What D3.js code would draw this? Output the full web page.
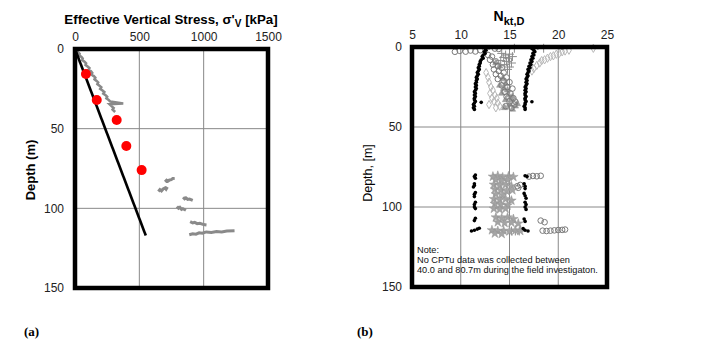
<!DOCTYPE html>
<html>
<head>
<meta charset="utf-8">
<script src="https://cdnjs.cloudflare.com/ajax/libs/d3/7.8.5/d3.min.js"></script>
<style>
body { margin: 0; background: #fff; }
text { font-family: "Liberation Sans", Arial, sans-serif; }
</style>
</head>
<body>
<svg id="chart" width="707" height="348"></svg>
<script>
// ---- panel (a) data ----
var stressTicks = [0, 500, 1000, 1500];
var depthTicks = [0, 50, 100, 150];

var redStress = [85, 169, 324, 399, 518];
var redDepth = [15.7, 32, 44.6, 60.9, 76];

var trendStress = [0, 550];
var trendDepth = [0, 117];

// measured profile, top 40 m
var profStress = [0, 14, 24, 36, 33, 50, 60, 57, 74, 86, 82, 98, 112, 106, 124, 134, 128, 146, 158, 152, 168, 180, 174, 190, 204, 196, 214, 228, 220, 238, 250, 244, 262, 275, 375, 268, 286, 300, 292, 312];
var profDepth = [0, 1, 2, 3, 4, 5, 6, 7, 8, 9, 10, 11, 12, 13, 14, 15, 16, 17, 18, 19, 20, 21, 22, 23, 24, 25, 26, 27, 28, 29, 30, 31, 32, 33, 34.2, 34.6, 36, 37, 38, 39.5];

// deeper measured segments
var seg81 = [[700, 83.4], [712, 82.4], [722, 83.0], [735, 82.2], [748, 82.0], [760, 81.3], [775, 81.2]];
var seg87 = [[648, 89.4], [660, 88.2], [672, 89.0], [685, 87.8], [700, 87.2], [708, 88.0], [718, 86.6]];
var seg94 = [[840, 93.0], [852, 94.0], [862, 93.4], [876, 94.4], [890, 94.2], [915, 95.0]];
var seg100 = [[792, 98.8], [805, 100.0], [815, 99.4], [828, 100.6], [838, 100.2], [862, 101.2]];
var seg109 = [[895, 108.4], [915, 109.2], [930, 108.8], [950, 109.6], [970, 109.4], [1000, 110.2], [1022, 110.4]];
var seg115 = [[888, 116.6], [915, 116.0], [940, 116.2], [965, 115.4], [990, 115.6], [1020, 114.8], [1060, 115.2], [1100, 114.6], [1140, 114.8], [1180, 114.2], [1240, 114.0]];

// ---- panel (b) data ----
var nktTicks = [5, 10, 15, 20, 25];

var nktBlackL = [[12.5, 1], [12.6, 2], [12.4, 3], [12.5, 4], [12.3, 5], [12.2, 6], [12.3, 7], [12.1, 8], [12.0, 9], [12.0, 10], [11.9, 11], [11.9, 12], [11.8, 13], [11.9, 14], [11.8, 15], [11.7, 16], [11.8, 17], [11.7, 18], [11.6, 19], [11.7, 20], [11.6, 21], [11.6, 22], [11.5, 23], [11.6, 24], [11.5, 25], [11.6, 26], [11.5, 27], [11.4, 28], [11.5, 29], [11.4, 30], [11.5, 31], [11.4, 32], [11.4, 33], [11.5, 34], [12.1, 34.6], [11.4, 35], [11.3, 36], [11.4, 37], [11.3, 38], [11.4, 39],
  [11.5, 80], [11.4, 81], [11.5, 82], [11.4, 85.5], [11.4, 86.5], [11.3, 87.5], [11.5, 91], [11.4, 92], [11.4, 93.5], [11.5, 97], [11.4, 98.5], [11.4, 100], [11.5, 101], [11.5, 107], [11.4, 108.5], [11.1, 115], [11.4, 114.5], [11.7, 113.8], [11.9, 113.3]];

var nktBlackR = [[17.3, 1], [17.5, 2], [17.6, 3], [17.4, 4], [17.5, 5], [17.3, 6], [17.4, 7], [17.2, 8], [17.3, 9], [17.1, 10], [17.2, 11], [17.0, 12], [17.1, 13], [16.9, 14], [17.0, 15], [16.9, 16], [16.8, 17], [16.9, 18], [16.8, 19], [16.7, 20], [16.8, 21], [16.7, 22], [16.8, 23], [16.7, 24], [16.6, 25], [16.7, 26], [16.6, 27], [16.7, 28], [16.6, 29], [16.6, 30], [16.7, 31], [16.6, 32], [16.6, 33], [16.7, 34], [17.3, 34.2], [16.6, 35], [16.6, 36], [16.5, 37], [16.6, 38], [16.6, 39],
  [16.6, 80.5], [16.8, 81], [16.5, 85.5], [16.6, 87], [16.6, 88.5], [16.5, 91.5], [16.6, 93], [16.7, 94.5], [16.6, 97], [16.7, 98.5], [16.6, 100], [16.7, 101.5], [16.5, 107.5], [16.6, 109], [16.4, 113.5], [16.6, 114.5], [16.9, 115]];

var nktBlackTop = [[12.9, 0.4], [15.1, 0.3], [17.9, 0.5], [20.4, 0.4]];

var nktCircles = [[9.4, 3], [9.9, 2.4], [10.5, 2.9], [11.0, 2.2], [11.5, 2.8], [12.0, 2.0], [13.5, 1.0], [13.9, 1.2],
  [12.8, 5], [13.2, 6], [13.0, 8], [13.6, 9], [13.3, 11], [13.8, 12], [14.2, 13], [13.4, 14], [13.9, 15], [14.4, 16], [13.6, 17], [14.1, 18], [14.7, 19], [13.8, 20], [14.4, 21], [15.0, 22], [14.2, 24], [14.8, 25], [15.3, 26], [14.5, 28], [15.1, 29], [14.7, 31], [15.4, 32], [15.0, 34], [15.5, 36], [15.2, 38], [14.6, 37], [15.6, 34.2],
  [17.0, 81], [17.4, 80.6], [17.8, 80.8], [18.2, 80.5], [15.8, 87], [16.1, 86.2], [15.9, 88], [18.2, 108.5], [18.6, 109.5],
  [18.4, 114.8], [18.8, 115.0], [19.2, 114.8], [19.6, 114.6], [20.0, 114.4], [20.4, 114.3], [20.7, 114.1]];

var nktLight = [[17.3, 15], [17.5, 13.5], [17.8, 11.5], [18.1, 10], [18.3, 8.5], [18.6, 8], [18.9, 7], [19.2, 6], [19.5, 5.5], [19.8, 4.5], [20.1, 4], [20.4, 3], [20.7, 2.5], [21.1, 2.0], [23.6, 0.8],
  [12.6, 16], [12.8, 19], [12.9, 22], [13.1, 25], [13.3, 27], [13.0, 29], [13.5, 30], [13.7, 32], [13.4, 34], [13.8, 35], [14.0, 37], [13.6, 38], [12.9, 36], [13.2, 32]];

var nktDark = [[14.0, 24], [14.4, 26], [14.8, 27], [14.2, 29], [14.9, 30], [15.3, 31], [14.6, 33], [15.2, 33], [15.8, 35.5], [15.0, 36], [15.6, 37], [14.5, 38], [15.3, 39], [13.6, 10], [14.0, 12], [14.3, 20], [14.6, 23]];

var nktCross = [[14.2, 4], [14.6, 5], [15.0, 4.5], [14.4, 6.5], [14.9, 7], [15.3, 6], [14.1, 8.5], [14.7, 9], [15.2, 10], [14.5, 11], [15.0, 12.5], [14.8, 14], [15.5, 0.8], [18.5, 0.8],
  [15.2, 115], [15.6, 115], [16.0, 115]];

var nktStars = [[13.3, 81], [13.8, 80.5], [14.3, 81.5], [14.9, 80.8], [15.4, 81.2], [13.6, 83], [14.2, 83.5], [14.8, 83],
  [13.4, 86], [14.0, 86.5], [14.6, 86], [15.2, 87], [13.5, 89], [14.1, 89.5], [14.7, 90], [15.3, 89.5], [13.6, 92], [14.3, 92.5],
  [13.4, 95], [14.0, 95.5], [14.6, 95], [15.2, 96], [13.5, 98], [14.1, 98.5], [14.8, 99], [13.4, 101], [14.0, 101.5], [14.6, 101],
  [13.6, 106.5], [14.2, 107], [14.8, 106.5], [15.4, 107.5], [13.8, 109.5], [14.5, 110], [15.2, 109.8], [15.9, 110.3],
  [13.2, 114.5], [13.8, 115], [14.4, 114.8], [15.0, 115.2], [15.6, 114.6], [16.1, 114.9], [13.5, 116.5], [14.2, 116.8]];

var svg = d3.select("#chart");

// ================= panel (a) =================
var xA = d3.scaleLinear().domain([0, 1500]).range([75, 268]);
var yA = d3.scaleLinear().domain([0, 150]).range([49, 288]);

var gA = svg.append("g");

gA.selectAll(".vgrid").data(stressTicks.slice(1, -1)).enter().append("line")
  .attr("x1", function(d) { return xA(d); }).attr("x2", function(d) { return xA(d); })
  .attr("y1", yA(0)).attr("y2", yA(150))
  .attr("stroke", "#888").attr("stroke-width", 1);
gA.selectAll(".hgrid").data(depthTicks.slice(1, -1)).enter().append("line")
  .attr("x1", xA(0)).attr("x2", xA(1500))
  .attr("y1", function(d) { return yA(d); }).attr("y2", function(d) { return yA(d); })
  .attr("stroke", "#888").attr("stroke-width", 1);

var lineA = d3.line()
  .x(function(d) { return xA(d[0]); })
  .y(function(d) { return yA(d[1]); });

var prof = profStress.map(function(s, i) { return [s, profDepth[i]]; });
gA.append("path").datum(prof)
  .attr("d", lineA).attr("fill", "none")
  .attr("stroke", "#8a8a8a").attr("stroke-width", 2.6);

[seg81, seg87, seg94, seg100, seg109, seg115].forEach(function(seg) {
  gA.append("path").datum(seg)
    .attr("d", lineA).attr("fill", "none")
    .attr("stroke", "#8a8a8a").attr("stroke-width", 3);
});

gA.append("path").datum(trendStress.map(function(s, i) { return [s, trendDepth[i]]; }))
  .attr("d", lineA).attr("fill", "none")
  .attr("stroke", "#000").attr("stroke-width", 2.6);

gA.selectAll(".red").data(redStress).enter().append("circle")
  .attr("cx", function(d) { return xA(d); })
  .attr("cy", function(d, i) { return yA(redDepth[i]); })
  .attr("r", 5).attr("fill", "#ff0000");

gA.append("rect")
  .attr("x", xA(0)).attr("y", yA(0))
  .attr("width", xA(1500) - xA(0)).attr("height", yA(150) - yA(0))
  .attr("fill", "none").attr("stroke", "#000").attr("stroke-width", 4.5);

var axA = gA.append("g").attr("transform", "translate(0," + yA(0) + ")")
  .call(d3.axisTop(xA).tickValues(stressTicks).tickFormat(d3.format("d")).tickSize(0).tickPadding(8));
var ayA = gA.append("g").attr("transform", "translate(" + xA(0) + ",0)")
  .call(d3.axisLeft(yA).tickValues(depthTicks).tickSize(0).tickPadding(11));
[axA, ayA].forEach(function(a) {
  a.select(".domain").remove();
  a.selectAll("text").attr("font-size", 12).attr("fill", "#222")
    .attr("font-family", "Liberation Sans, Arial, sans-serif");
});

var tA = gA.append("text").attr("x", 171).attr("y", 24)
  .attr("text-anchor", "middle").attr("font-size", 13.3).attr("font-weight", "bold");
tA.append("tspan").text("Effective Vertical Stress, \u03c3'");
tA.append("tspan").attr("font-size", 10).attr("dy", 3).text("V");
tA.append("tspan").attr("dy", -3).text(" [kPa]");

gA.append("text").attr("transform", "translate(35,170) rotate(-90)")
  .attr("text-anchor", "middle").attr("font-size", 13).attr("font-weight", "bold")
  .text("Depth (m)");

gA.append("text").attr("x", 24).attr("y", 336)
  .attr("font-size", 13).attr("font-weight", "bold")
  .style("font-family", "Liberation Serif, 'Times New Roman', serif")
  .text("(a)");

// ================= panel (b) =================
var xB = d3.scaleLinear().domain([5, 25]).range([412, 607]);
var yB = d3.scaleLinear().domain([0, 150]).range([47, 287]);

var gB = svg.append("g");

gB.selectAll(".vgrid").data(nktTicks.slice(1, -1)).enter().append("line")
  .attr("x1", function(d) { return xB(d); }).attr("x2", function(d) { return xB(d); })
  .attr("y1", yB(0)).attr("y2", yB(150))
  .attr("stroke", "#888").attr("stroke-width", 1);
gB.selectAll(".hgrid").data(depthTicks.slice(1, -1)).enter().append("line")
  .attr("x1", xB(5)).attr("x2", xB(25))
  .attr("y1", function(d) { return yB(d); }).attr("y2", function(d) { return yB(d); })
  .attr("stroke", "#888").attr("stroke-width", 1);

function pos(d) { return "translate(" + xB(d[0]) + "," + yB(d[1]) + ")"; }

gB.selectAll(".light").data(nktLight).enter().append("path")
  .attr("transform", pos)
  .attr("d", d3.symbol().type(d3.symbolDiamond).size(20))
  .attr("fill", "none").attr("stroke", "#b8b8b8").attr("stroke-width", 1);

gB.selectAll(".dark").data(nktDark).enter().append("path")
  .attr("transform", pos)
  .attr("d", d3.symbol().type(d3.symbolTriangle).size(18))
  .attr("fill", "#a0a0a0").attr("stroke", "#909090").attr("stroke-width", 0.5);

gB.selectAll(".circ").data(nktCircles).enter().append("circle")
  .attr("cx", function(d) { return xB(d[0]); })
  .attr("cy", function(d) { return yB(d[1]); })
  .attr("r", 2.8).attr("fill", "none").attr("stroke", "#7a7a7a").attr("stroke-width", 1);

gB.selectAll(".cross").data(nktCross).enter().append("path")
  .attr("transform", pos)
  .attr("d", d3.symbol().type(d3.symbolPlus).size(28))
  .attr("fill", "none").attr("stroke", "#8c8c8c").attr("stroke-width", 1);

gB.selectAll(".star").data(nktStars).enter().append("path")
  .attr("transform", pos)
  .attr("d", d3.symbol().type(d3.symbolStar).size(28))
  .attr("fill", "#a4a4a4").attr("stroke", "#959595").attr("stroke-width", 0.5);

gB.selectAll(".blk").data(nktBlackL.concat(nktBlackR, nktBlackTop)).enter().append("circle")
  .attr("cx", function(d) { return xB(d[0]); })
  .attr("cy", function(d) { return yB(d[1]); })
  .attr("r", 1.8).attr("fill", "#000");

gB.append("rect")
  .attr("x", xB(5)).attr("y", yB(0))
  .attr("width", xB(25) - xB(5)).attr("height", yB(150) - yB(0))
  .attr("fill", "none").attr("stroke", "#000").attr("stroke-width", 4.5);

var axB = gB.append("g").attr("transform", "translate(0," + yB(0) + ")")
  .call(d3.axisTop(xB).tickValues(nktTicks).tickSize(0).tickPadding(8));
var ayB = gB.append("g").attr("transform", "translate(" + xB(5) + ",0)")
  .call(d3.axisLeft(yB).tickValues(depthTicks).tickSize(0).tickPadding(10));
[axB, ayB].forEach(function(a) {
  a.select(".domain").remove();
  a.selectAll("text").attr("font-size", 12).attr("fill", "#222")
    .attr("font-family", "Liberation Sans, Arial, sans-serif");
});

var tB = gB.append("text").attr("x", 509).attr("y", 21)
  .attr("text-anchor", "middle").attr("font-weight", "bold").attr("font-size", 14);
tB.append("tspan").text("N");
tB.append("tspan").attr("font-size", 11).attr("dy", 4).text("kt,D");

gB.append("text").attr("transform", "translate(372,173) rotate(-90)")
  .attr("text-anchor", "middle").attr("font-size", 12.5)
  .text("Depth, [m]");

var noteLines = ["Note:", "No CPTu data was collected between", "40.0 and 80.7m during the field investigaton."];
gB.selectAll(".note").data(noteLines).enter().append("text")
  .attr("x", 417).attr("y", function(d, i) { return 253 + i * 10; })
  .attr("font-size", 9.2).attr("fill", "#111")
  .text(function(d) { return d; });

gB.append("text").attr("x", 357).attr("y", 336)
  .attr("font-size", 13).attr("font-weight", "bold")
  .style("font-family", "Liberation Serif, 'Times New Roman', serif")
  .text("(b)");
</script>
</body>
</html>
